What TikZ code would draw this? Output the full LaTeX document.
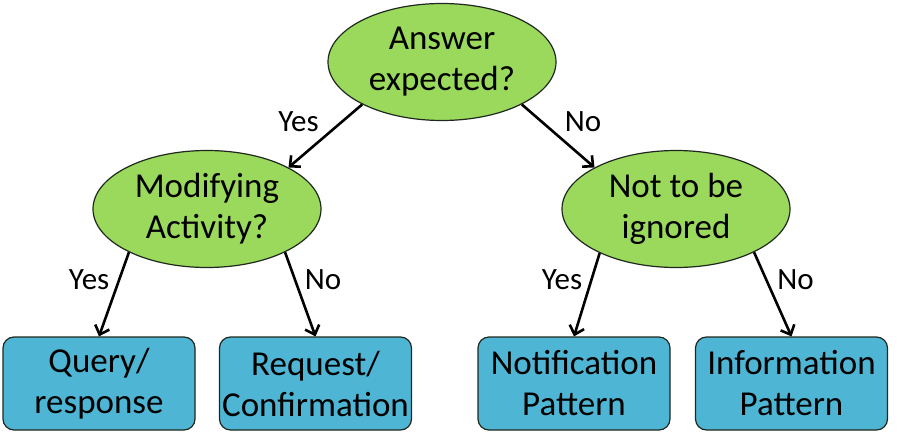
\documentclass[tikz,border=0pt]{standalone}
\usepackage{fontspec}
\setmainfont{Carlito}
\usetikzlibrary{positioning,arrows.meta,shapes.geometric}
\definecolor{qgreen}{RGB}{154,217,92}
\definecolor{pblue}{RGB}{78,182,212}
\definecolor{edgegray}{RGB}{30,40,30}

\begin{document}
\begin{tikzpicture}[x=1pt,y=1pt,>={Straight Barb[length=8pt,width=15pt]},
  font=\fontsize{35}{41}\selectfont]
\tikzstyle{question}=[ellipse,draw=edgegray,line width=1.2pt,fill=qgreen,
  minimum width=228pt,minimum height=117pt,inner sep=0pt,align=center]
\tikzstyle{pattern}=[draw=edgegray,line width=1.2pt,rounded corners=11pt,
  fill=pblue,minimum width=192pt,minimum height=93pt,inner sep=0pt,align=center]
\tikzstyle{flow}=[->,line width=2.6pt]
\tikzstyle{answer}=[font=\fontsize{31}{36}\selectfont]

\useasboundingbox (0,0) rectangle (900,440);

\node[question] (ans) at (442,378) {Answer\\expected?};
\node[question] (mod) at (207,231) {Modifying\\Activity?};
\node[question] (ign) at (676,231) {Not to be\\ignored};

\node[pattern] (qry)  at (99,56.5)    {Query/\\response};
\node[pattern] (req)  at (315.5,56.5) {Request/\\Confirmation};
\node[pattern] (note) at (574,56.5)   {Notification\\Pattern};
\node[pattern] (info) at (791.5,56.5) {Information\\Pattern};

% decisions
\draw[flow] (ans.208) -- (mod.27)
  node[answer,midway,above left=0pt and 2pt] {Yes};
\draw[flow] (ans.-28) -- (ign.153)
  node[answer,midway,above right=0pt and 2pt] {No};
\draw[flow] (mod.209) -- (qry.north)
  node[answer,midway,above left=0pt and 0pt] {Yes};
\draw[flow] (mod.-29) -- (req.north)
  node[answer,midway,above right=0pt and 0pt] {No};
\draw[flow] (ign.210) -- (note.north)
  node[answer,midway,above left=0pt and 0pt] {Yes};
\draw[flow] (ign.-29) -- (info.north)
  node[answer,midway,above right=0pt and 0pt] {No};
\end{tikzpicture}
\end{document}
